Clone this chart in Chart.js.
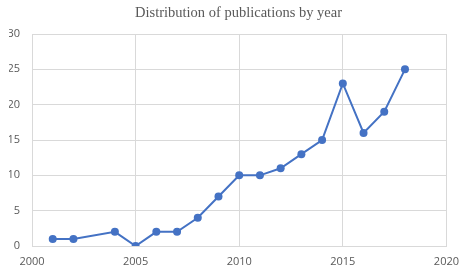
<!DOCTYPE html>
<html>
<head>
<meta charset="utf-8">
<script src="https://cdn.jsdelivr.net/npm/chart.js@4"></script>
<style>
  html, body { margin: 0; padding: 0; background: #fff; }
  #pubChart { display: block; }
</style>
</head>
<body>
<canvas id="pubChart" width="468" height="272"></canvas>
<script>
const years = [2001, 2002, 2004, 2005, 2006, 2007, 2008, 2009, 2010, 2011, 2012, 2013, 2014, 2015, 2016, 2017, 2018];
const publications = [1, 1, 2, 0, 2, 2, 4, 7, 10, 10, 11, 13, 15, 23, 16, 19, 25];
const chartTitle = 'Distribution of publications by year';

const gridColor = '#d9d9d9';
const tickColor = '#595959';

const points = years.map((y, i) => ({ x: y, y: publications[i] }));

const config = {
  type: 'line',
  data: {
    datasets: [
      {
        label: 'Publications',
        data: points,
        yAxisID: 'y',
        borderColor: '#4472c4',
        backgroundColor: '#4472c4',
        borderWidth: 2,
        pointRadius: 4,
        pointBorderWidth: 0,
        tension: 0,
      },
    ],
  },
  options: {
    responsive: false,
    animation: false,
    // left padding shifts the title centre a bit to the right, like the original
    layout: { padding: { left: 9, right: 0, top: 0, bottom: 0 } },
    plugins: {
      legend: { display: false },
      tooltip: { enabled: false },
      title: {
        display: true,
        text: chartTitle,
        color: tickColor,
        font: { family: '"Liberation Serif", "Times New Roman", serif', size: 14.5, weight: 'normal', lineHeight: 1.2 },
        padding: { top: 4, bottom: 12.6 },
      },
    },
    scales: {
      x: {
        type: 'linear',
        min: 2000,
        max: 2020,
        afterFit: (scale) => { scale.height = 26; },
        grid: { color: gridColor, drawTicks: false },
        border: { color: gridColor },
        ticks: {
          stepSize: 5,
          padding: 9,
          color: tickColor,
          font: { family: '"Open Sans", "DejaVu Sans", sans-serif', size: 11 },
          callback: (v) => String(v),
        },
      },
      y: {
        min: 0,
        max: 30,
        afterFit: (scale) => { scale.width = 23; },
        grid: { color: gridColor, drawTicks: false },
        border: { color: gridColor },
        ticks: {
          stepSize: 5,
          padding: 12,
          color: tickColor,
          font: { family: '"Open Sans", "DejaVu Sans", sans-serif', size: 11 },
        },
      },
      // empty axis on the right, only keeps room for the last x label
      y2: {
        position: 'right',
        afterFit: (scale) => { scale.width = 18; },
        grid: { display: false },
        border: { display: false },
        ticks: { display: false },
      },
    },
  },
};

window.pubChart = new Chart(document.getElementById('pubChart'), config);
</script>
</body>
</html>
